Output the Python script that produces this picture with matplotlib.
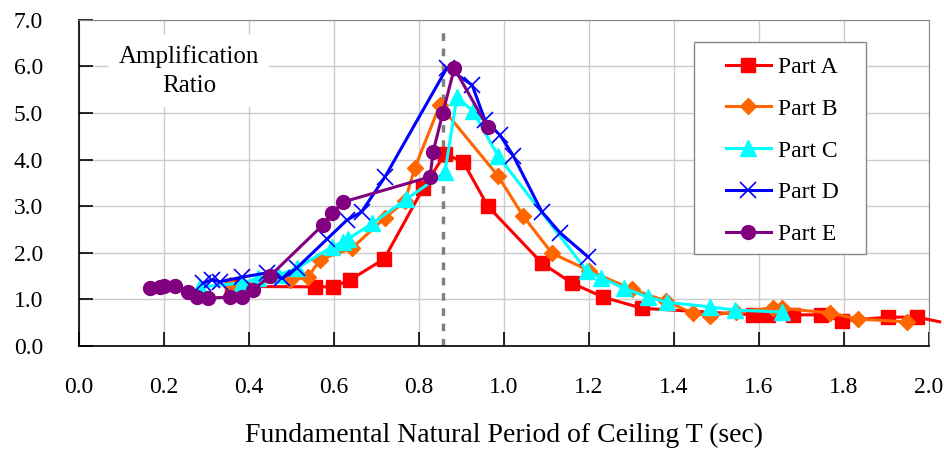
import matplotlib
matplotlib.use("Agg")
import matplotlib.pyplot as plt
from matplotlib.patches import Rectangle

plt.rcParams['font.family'] = ['Liberation Serif', 'DejaVu Serif']

# data
a_x = [0.36, 0.555, 0.598, 0.638, 0.718, 0.81, 0.861, 0.904, 0.962, 1.089, 1.16, 1.233,
       1.325, 1.586, 1.62, 1.68, 1.745, 1.795, 1.904, 1.972, 2.025]
a_y = [1.28, 1.27, 1.27, 1.42, 1.87, 3.39, 4.12, 3.95, 3.0, 1.78, 1.35, 1.05,
       0.81, 0.67, 0.67, 0.67, 0.67, 0.54, 0.62, 0.62, 0.52]

b_x = [0.355, 0.497, 0.539, 0.567, 0.642, 0.72, 0.767, 0.79, 0.849, 0.986, 1.045, 1.113,
       1.20, 1.30, 1.38, 1.445, 1.485, 1.545, 1.633, 1.654, 1.767, 1.833, 1.948]
b_y = [1.31, 1.42, 1.48, 1.85, 2.10, 2.75, 3.11, 3.82, 5.17, 3.65, 2.79, 1.99,
       1.62, 1.22, 0.97, 0.70, 0.65, 0.74, 0.81, 0.81, 0.71, 0.58, 0.52]

c_x = [0.285, 0.384, 0.42, 0.468, 0.513, 0.595, 0.62, 0.633, 0.69, 0.77, 0.861, 0.889,
       0.927, 0.986, 1.195, 1.228, 1.282, 1.339, 1.383, 1.485, 1.544, 1.654]
c_y = [1.27, 1.35, 1.46, 1.52, 1.67, 2.13, 2.23, 2.30, 2.63, 3.15, 3.73, 5.34,
       5.04, 4.08, 1.61, 1.47, 1.24, 1.05, 0.94, 0.84, 0.77, 0.73]

d_x = [0.292, 0.313, 0.332, 0.384, 0.442, 0.478, 0.513, 0.583, 0.63, 0.665, 0.72, 0.866,
       0.925, 0.955, 0.991, 1.022, 1.089, 1.132, 1.198]
d_y = [1.35, 1.42, 1.38, 1.48, 1.57, 1.45, 1.68, 2.29, 2.70, 2.88, 3.63, 5.97,
       5.60, 4.85, 4.52, 4.08, 2.88, 2.43, 1.91]

e_x = [0.167, 0.19, 0.2, 0.226, 0.256, 0.278, 0.303, 0.355, 0.383, 0.409, 0.449, 0.574,
       0.595, 0.621, 0.826, 0.833, 0.856, 0.883, 0.962]
e_y = [1.24, 1.27, 1.28, 1.28, 1.17, 1.05, 1.03, 1.05, 1.05, 1.2, 1.5, 2.6,
       2.85, 3.09, 3.63, 4.16, 5.0, 5.96, 4.69]

x_ticks = [0.0, 0.2, 0.4, 0.6, 0.8, 1.0, 1.2, 1.4, 1.6, 1.8, 2.0]
y_ticks = [0.0, 1.0, 2.0, 3.0, 4.0, 5.0, 6.0, 7.0]
peak_T = 0.856

fig = plt.figure(figsize=(9.45, 4.5), dpi=100)
ax = fig.add_axes([0.0836, 0.231, 0.8995, 0.725])

# garis titik-titik periode dasar
ax.axvline(peak_T, ymin=0, ymax=0.965, color='#808080', lw=2.5, ls=(0, (2.2, 2.2)), zorder=1)

ax.plot(a_x, a_y, color='#FF0000', lw=2.2, marker='s', ms=10, markevery=list(range(len(a_x) - 1)),
        label='Part A', clip_on=False, zorder=3)
ax.plot(b_x, b_y, color='#FF6600', lw=2.2, marker='D', ms=8, label='Part B', zorder=3)
ax.plot(c_x, c_y, color='#00FFFF', lw=2.2, marker='^', ms=11, label='Part C', zorder=3)
ax.plot(d_x, d_y, color='#0000FF', lw=2.2, marker='x', ms=11, mew=1.2, label='Part D', zorder=3)
ax.plot(e_x, e_y, color='#800080', lw=2.2, marker='o', ms=10, label='Part E', zorder=3)

ax.set_xlim(0, 2.0)
ax.set_ylim(0, 7.0)
ax.set_xticks(x_ticks)
ax.set_yticks(y_ticks)
ax.set_xticklabels(['%.1f' % v for v in x_ticks])
ax.set_yticklabels(['%.1f' % v for v in y_ticks])
ax.tick_params(axis='both', direction='in', length=10, width=1.2, labelsize=17)
ax.tick_params(axis='x', pad=22)
ax.tick_params(axis='y', pad=26)
ax.grid(True, color='#cccccc', lw=1)
ax.set_axisbelow(True)

for s in ['top', 'right']:
    ax.spines[s].set_color('#888888')
for s in ['left', 'bottom']:
    ax.spines[s].set_color('black')
    ax.spines[s].set_linewidth(1.2)

ax.set_xlabel('Fundamental Natural Period of Ceiling T (sec)', fontsize=20, labelpad=18)

ax.text(0.259, 5.9, 'Amplification\nRatio', fontsize=18, ha='center', va='center',
        linespacing=1.45, bbox=dict(facecolor='white', edgecolor='none', pad=7), zorder=2)

# kotak legenda digambar sendiri supaya padding kiri/kanan lebih lebar
ax.add_patch(Rectangle((0.7235, 0.282), 0.2024, 0.650, transform=ax.transAxes,
                       facecolor='white', edgecolor='#888888', lw=1, zorder=4))
leg = ax.legend(loc='upper left', bbox_to_anchor=(0.761, 0.888), borderaxespad=0, borderpad=0,
                fontsize=17, frameon=False, handlelength=1.9, labelspacing=0.86,
                handletextpad=0.3)
leg.set_zorder(5)

plt.savefig('out.png', dpi=100)
